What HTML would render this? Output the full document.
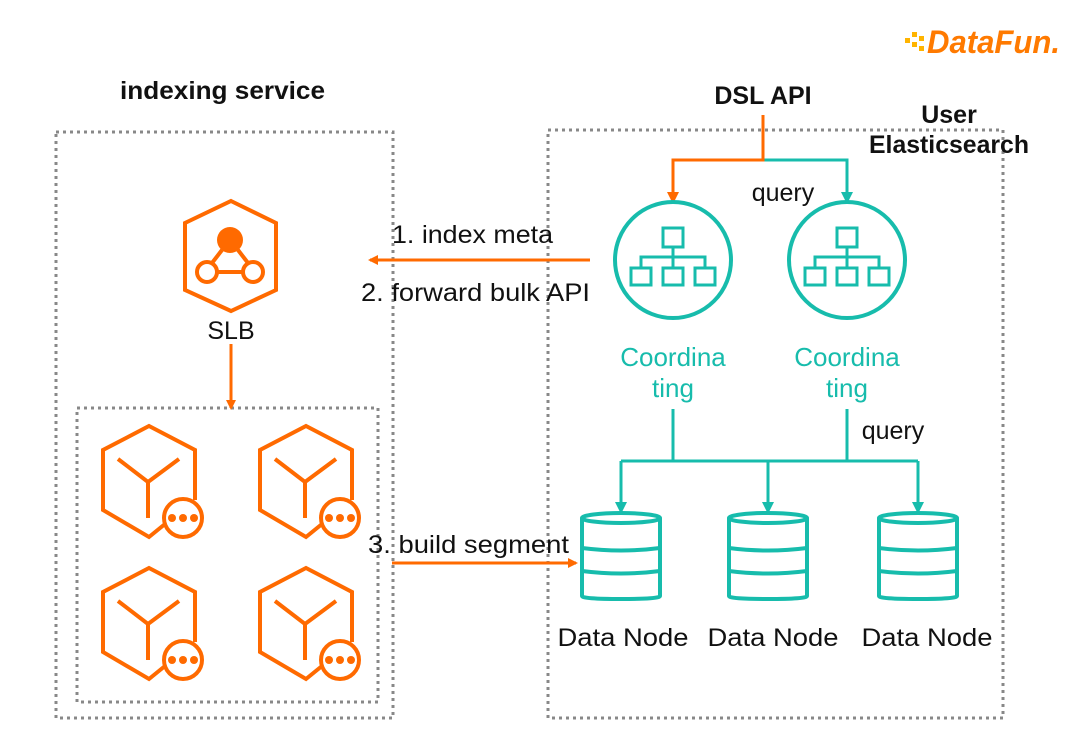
<!DOCTYPE html>
<html><head><meta charset="utf-8"><style>
html,body{margin:0;padding:0;background:#fff;}
svg{display:block;font-family:"Liberation Sans",sans-serif;}
</style></head><body>
<svg width="1080" height="751" viewBox="0 0 1080 751" xmlns="http://www.w3.org/2000/svg">
<defs>
<marker id="ao" markerWidth="10" markerHeight="10" refX="8" refY="5" orient="auto" markerUnits="userSpaceOnUse"><path d="M0,0 L10,5 L0,10 z" fill="#FF6A00"/></marker>
<marker id="at" markerWidth="12" markerHeight="12" refX="10" refY="6" orient="auto" markerUnits="userSpaceOnUse"><path d="M0,0 L12,6 L0,12 z" fill="#17BCAC"/></marker>
<marker id="ao2" markerWidth="12" markerHeight="12" refX="10" refY="6" orient="auto" markerUnits="userSpaceOnUse"><path d="M0,0 L12,6 L0,12 z" fill="#FF6A00"/></marker>
<g id="cube" fill="none" stroke="#FF6A00" stroke-width="4">
<path d="M165,524 L149,537 L103,510 L103,450 L149,426 L195,450 L195,500"/>
<path d="M118,459 L148,482 L179,459 M148,482 L148,518"/>
<circle cx="183" cy="518" r="19" fill="#fff"/>
<circle cx="172" cy="518" r="4" fill="#FF6A00" stroke="none"/>
<circle cx="183" cy="518" r="4" fill="#FF6A00" stroke="none"/>
<circle cx="194" cy="518" r="4" fill="#FF6A00" stroke="none"/>
</g>
<g id="coord" fill="none" stroke="#17BCAC" stroke-width="4">
<circle cx="0" cy="0" r="58"/>
<g stroke-width="3">
<rect x="-10" y="-32" width="20" height="19"/>
<path d="M0,-13 L0,-3 M-32,8 L-32,-3 L32,-3 L32,8 M0,-3 L0,8"/>
<rect x="-42" y="8" width="20" height="17"/>
<rect x="-10" y="8" width="20" height="17"/>
<rect x="22" y="8" width="20" height="17"/>
</g>
</g>
<g id="db" fill="none" stroke="#17BCAC" stroke-width="4">
<path d="M-39,0 L-39,78 Q-39,81 0,81 Q39,81 39,78 L39,0"/>
<ellipse cx="0" cy="0" rx="39" ry="5"/>
<path d="M-39,30 Q0,35 39,30 M-39,53 Q0,58 39,53"/>
</g>
</defs>

<!-- logo -->
<g fill="#FFB400">
<rect x="905" y="38" width="5" height="5"/><rect x="912" y="32" width="5" height="5"/><rect x="912" y="42" width="5" height="5"/><rect x="919" y="36" width="5" height="5"/><rect x="919" y="46" width="5" height="5"/>
</g>
<text x="927" y="53" font-size="32" font-weight="bold" font-style="italic" fill="#FF7A00" textLength="133" lengthAdjust="spacingAndGlyphs">DataFun.</text>

<!-- boxes -->
<g fill="none" stroke="#888" stroke-width="3" stroke-dasharray="3,4">
<rect x="56" y="132" width="337" height="586"/>
<rect x="77" y="408" width="301" height="294"/>
<rect x="548" y="130" width="455" height="588"/>
</g>

<g font-weight="bold" fill="#111" font-size="25">
<text x="120" y="99" textLength="205" lengthAdjust="spacingAndGlyphs">indexing service</text>
<text x="763" y="104" text-anchor="middle">DSL API</text>
<text x="949" y="123" text-anchor="middle">User</text>
<text x="949" y="153" text-anchor="middle" textLength="160" lengthAdjust="spacingAndGlyphs">Elasticsearch</text>
</g>

<!-- SLB -->
<g fill="none" stroke="#FF6A00" stroke-width="4">
<path d="M231,201 L276,223 L276,290 L231,311 L185,290 L185,223 Z"/>
<path d="M222,250 L212,263 M238,250 L248,263 M218,272 L242,272"/>
<circle cx="207" cy="272" r="10"/>
<circle cx="253" cy="272" r="10"/>
</g>
<circle cx="230" cy="240" r="13" fill="#FF6A00"/>
<text x="231" y="339" font-size="25" fill="#111" text-anchor="middle">SLB</text>
<line x1="231" y1="344" x2="231" y2="408" stroke="#FF6A00" stroke-width="3" marker-end="url(#ao)"/>

<!-- workers -->
<use href="#cube"/>
<use href="#cube" transform="translate(157,0)"/>
<use href="#cube" transform="translate(0,142)"/>
<use href="#cube" transform="translate(157,142)"/>

<!-- middle arrows -->
<g font-size="25" fill="#111">
<text x="392" y="243" textLength="161" lengthAdjust="spacingAndGlyphs">1. index meta</text>
<text x="361" y="301" textLength="229" lengthAdjust="spacingAndGlyphs">2. forward bulk API</text>
<text x="368" y="553" textLength="201" lengthAdjust="spacingAndGlyphs">3. build segment</text>
</g>
<line x1="590" y1="260" x2="370" y2="260" stroke="#FF6A00" stroke-width="3" marker-end="url(#ao)"/>
<line x1="392" y1="563" x2="576" y2="563" stroke="#FF6A00" stroke-width="3" marker-end="url(#ao)"/>

<!-- DSL arrows -->
<path d="M763,160 L847,160 L847,202" fill="none" stroke="#17BCAC" stroke-width="3" marker-end="url(#at)"/>
<path d="M763,115 L763,160 L673,160 L673,202" fill="none" stroke="#FF6A00" stroke-width="3" marker-end="url(#ao2)"/>
<text x="783" y="201" font-size="25" fill="#111" text-anchor="middle">query</text>

<use href="#coord" transform="translate(673,260)"/>
<use href="#coord" transform="translate(847,260)"/>
<g font-size="26" fill="#17BCAC" text-anchor="middle">
<text x="673" y="366">Coordina</text><text x="673" y="397">ting</text>
<text x="847" y="366">Coordina</text><text x="847" y="397">ting</text>
</g>

<!-- bus -->
<g fill="none" stroke="#17BCAC" stroke-width="3">
<path d="M673,409 L673,461 M847,409 L847,461 M621,461 L918,461"/>
<path d="M621,461 L621,512" marker-end="url(#at)"/>
<path d="M768,461 L768,512" marker-end="url(#at)"/>
<path d="M918,461 L918,512" marker-end="url(#at)"/>
</g>
<text x="893" y="439" font-size="25" fill="#111" text-anchor="middle">query</text>

<use href="#db" transform="translate(621,518)"/>
<use href="#db" transform="translate(768,518)"/>
<use href="#db" transform="translate(918,518)"/>
<g font-size="25" fill="#111" text-anchor="middle">
<text x="623" y="646" textLength="131" lengthAdjust="spacingAndGlyphs">Data Node</text>
<text x="773" y="646" textLength="131" lengthAdjust="spacingAndGlyphs">Data Node</text>
<text x="927" y="646" textLength="131" lengthAdjust="spacingAndGlyphs">Data Node</text>
</g>
</svg>
</body></html>
